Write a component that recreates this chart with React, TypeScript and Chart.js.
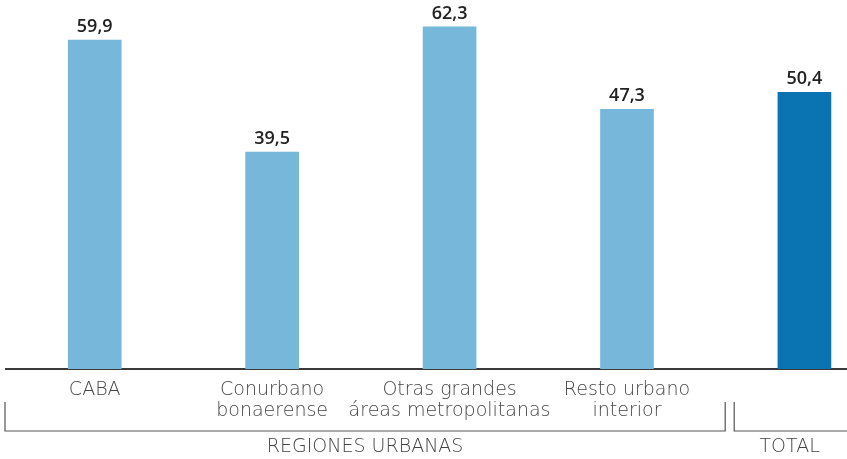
import React, { useEffect, useRef } from "react";
import { Chart, registerables } from "chart.js";

Chart.register(...registerables);

const categories: string[][] = [
  ["CABA"],
  ["Conurbano", "bonaerense"],
  ["Otras grandes", "áreas metropolitanas"],
  ["Resto urbano", "interior"],
  [""],
];
const values: number[] = [59.9, 39.5, 62.3, 47.3, 50.4];
const barColors: string[] = ["#77B7D9", "#77B7D9", "#77B7D9", "#77B7D9", "#0A73B1"];
const groupLabels: string[] = ["REGIONES URBANAS", "TOTAL"];

const LIGHT_FONT = "'DejaVu Sans', sans-serif";
const VALUE_FONT = "'Open Sans', sans-serif";

const fmt = (v: number) => v.toFixed(1).replace(".", ",");

const annotations = {
  id: "annotations",
  afterDatasetsDraw(chart: any) {
    const ctx = chart.ctx;
    const meta = chart.getDatasetMeta(0);
    ctx.save();
    ctx.fillStyle = "#222";
    ctx.font = `600 18px ${VALUE_FONT}`;
    ctx.textAlign = "center";
    ctx.textBaseline = "alphabetic";
    meta.data.forEach((el: any, i: number) => {
      ctx.fillText(fmt(values[i]), el.x, el.y - 8);
    });

    // brackets
    const xs = chart.scales.x;
    const area = chart.chartArea;
    const split = (xs.getPixelForValue(3) + xs.getPixelForValue(4)) / 2 + 14;
    const yTop = area.bottom + 33;
    const yBot = area.bottom + 62;
    ctx.strokeStyle = "#555";
    ctx.lineWidth = 1.2;
    const g1L = area.left - 1;
    const g1R = split - 4.5;
    const g2L = split + 4.5;
    const g2R = chart.width + 2;
    ctx.beginPath();
    ctx.moveTo(g1L, yTop);
    ctx.lineTo(g1L, yBot);
    ctx.lineTo(g1R, yBot);
    ctx.lineTo(g1R, yTop);
    ctx.moveTo(g2L, yTop);
    ctx.lineTo(g2L, yBot);
    ctx.lineTo(g2R, yBot);
    ctx.stroke();

    ctx.fillStyle = "#444";
    ctx.font = `200 19px ${LIGHT_FONT}`;
    ctx.textBaseline = "middle";
    ctx.fillText(groupLabels[0], (g1L + g1R) / 2, yBot + 16);
    ctx.fillText(groupLabels[1], (g2L + chart.width - 2) / 2, yBot + 16);
    ctx.restore();
  },
};

export default function App() {
  const ref = useRef<HTMLCanvasElement | null>(null);
  useEffect(() => {
    if (!ref.current) return;
    const chart = new Chart(ref.current, {
      type: "bar",
      data: {
        datasets: [
          {
            data: values.map((v, i) => ({ x: i, y: v })),
            backgroundColor: barColors,
            barThickness: 53,
          },
        ],
      },
      options: {
        animation: false,
        responsive: true,
        maintainAspectRatio: false,
        layout: { padding: { left: 6, right: 0, top: 0, bottom: 0 } },
        plugins: { legend: { display: false }, tooltip: { enabled: false } },
        scales: {
          x: {
            type: "linear",
            offset: false,
            min: -0.5,
            max: 4.24,
            grid: { display: false, drawTicks: false, offset: false },
            border: { display: true, color: "#3a3a3a", width: 2 },
            afterFit: (s: any) => {
              s.height = 90;
              s.paddingLeft = 0;
              s.paddingRight = 0;
            },
            afterBuildTicks: (s: any) => {
              s.ticks = categories.map((_, i) => ({ value: i }));
            },
            ticks: {
              autoSkip: false,
              maxRotation: 0,
              padding: 11,
              color: "#444",
              font: { family: LIGHT_FONT, size: 19, weight: "200", lineHeight: 1.08 },
              callback: (v: any) => categories[Math.round(Number(v))] ?? "",
            },
          },
          y: { display: false, min: 0, max: 67.2 },
        },
      },
      plugins: [annotations],
    });
    return () => chart.destroy();
  }, []);
  return (
    <div style={{ position: "absolute", left: 0, top: 0, width: 847, height: 459, background: "#fff" }}>
      <canvas ref={ref} />
    </div>
  );
}
